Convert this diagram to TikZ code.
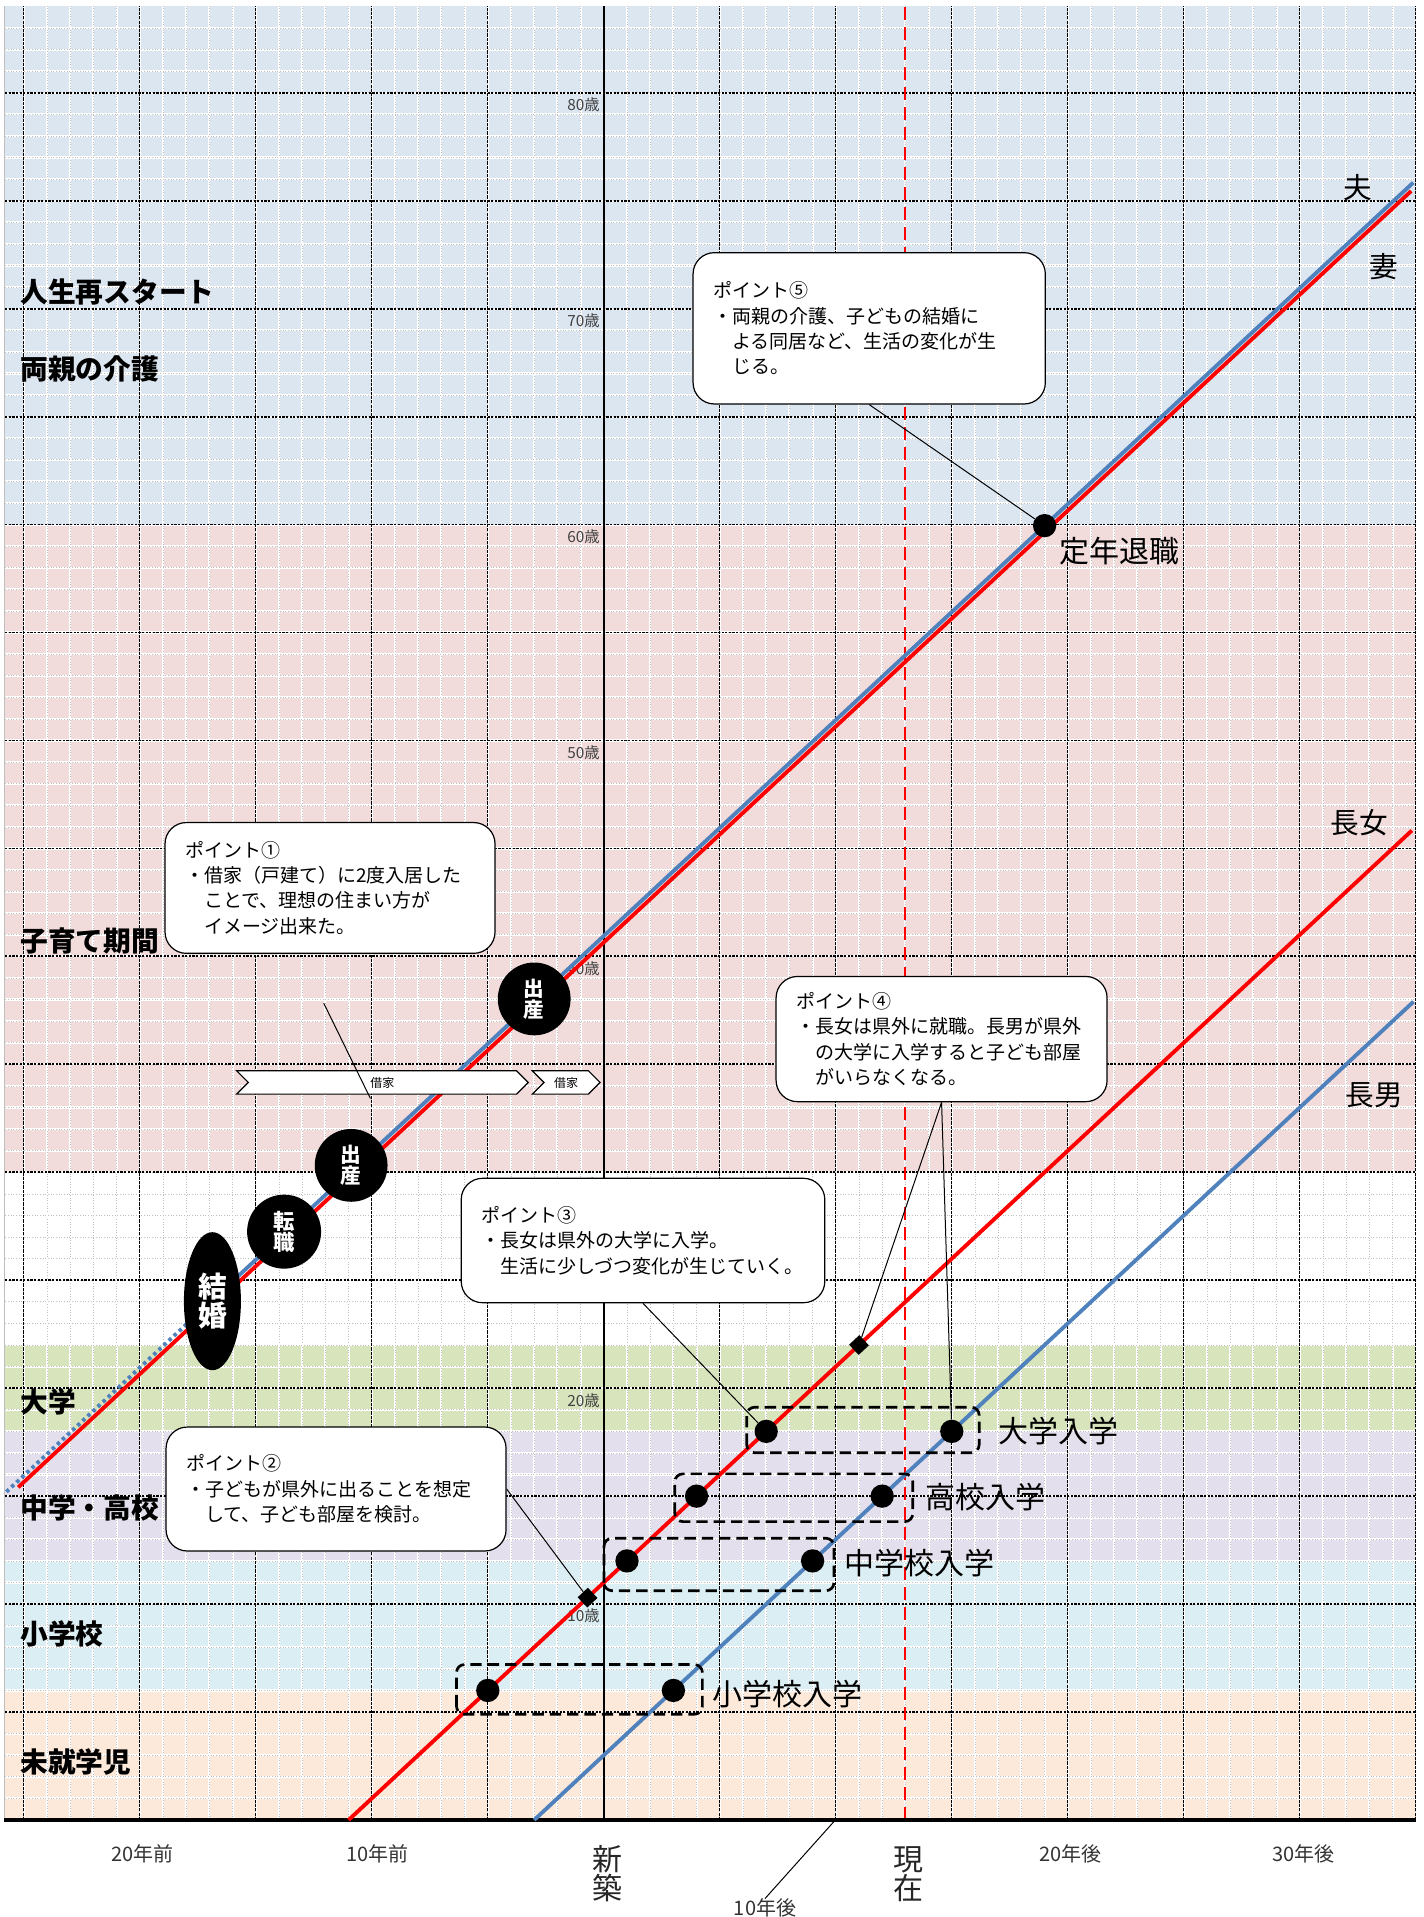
\documentclass[tikz,border=0pt]{standalone}
\usepackage{fontspec}
\setmainfont{Noto Sans CJK JP}
\usetikzlibrary{shapes.geometric,shapes.symbols}

\definecolor{bandblue}{RGB}{220,230,241}
\definecolor{bandpink}{RGB}{242,220,219}
\definecolor{bandgreen}{RGB}{216,228,188}
\definecolor{bandpurple}{RGB}{228,223,236}
\definecolor{bandcyan}{RGB}{218,238,243}
\definecolor{bandpeach}{RGB}{253,233,217}
\definecolor{lineblue}{RGB}{79,129,189}
\definecolor{linered}{RGB}{255,0,0}

\tikzset{
  finegrid/.style={white, line width=1.6pt},
  finedots/.style={black!25, line width=0.5pt, dash pattern=on 0.8pt off 1.2pt},
  majorh/.style={black, line width=1.35pt, dash pattern=on 1.6pt off 1.1pt},
  majorv/.style={black, line width=0.75pt, dash pattern=on 2.4pt off 0.8pt},
  agelabel/.style={anchor=east, inner sep=0pt, text=black!75, font=\fontsize{11.5}{13}\selectfont},
  bandlabel/.style={anchor=west, inner sep=0pt, font=\fontsize{20.8}{24}\selectfont\bfseries},
  personlabel/.style={inner sep=0pt, font=\fontsize{21.5}{24}\selectfont},
  stagelabel/.style={anchor=west, inner sep=0pt, font=\fontsize{22.5}{26}\selectfont},
  axislabel/.style={inner sep=0pt, text=black!80, font=\fontsize{15}{17}\selectfont},
  axisbig/.style={inner sep=0pt, align=center, text=black!85, font=\fontsize{22.5}{21.75}\selectfont},
  lifeline/.style={line width=2.9pt},
  stagedot/.style={circle, fill=black, inner sep=0pt, minimum size=17.5pt},
  sqmark/.style={rectangle, fill=black, inner sep=0pt, minimum size=10.5pt, rotate=43},
  event/.style={circle, fill=black, text=white, inner sep=0pt, align=center, font=\fontsize{15.5}{15.5}\selectfont\bfseries},
  stagebox/.style={draw, line width=2pt, dash pattern=on 8.5pt off 4.5pt, rounded corners=6pt},
  callout/.style={draw, fill=white, line width=0.9pt, rounded corners=16pt, align=left, inner xsep=15pt, inner ysep=0pt, font=\fontsize{14.25}{19}\selectfont},
  leader/.style={line width=0.75pt},
  rental/.style={signal, signal from=west, signal to=east, draw, fill=white, line width=0.9pt, inner sep=0pt, minimum height=17.5pt, font=\fontsize{9}{10}\selectfont},
}

\begin{document}
\begin{tikzpicture}[x=17.4pt, y=16.1925pt]
\useasboundingbox (-26.026,-4.493) rectangle (35.353,84.298);

% Bands
\fill[bandpeach] (-25.8,0) rectangle (35,6);
\fill[bandcyan] (-25.8,6) rectangle (35,12);
\fill[bandpurple] (-25.8,12) rectangle (35,18);
\fill[bandgreen] (-25.8,18) rectangle (35,22);
\fill[bandpink] (-25.8,30) rectangle (35,60);
\fill[bandblue] (-25.8,60) rectangle (35,84);

% Fine grid
\foreach \t in {-25,...,35} {
  \draw[finegrid] (\t,0) -- (\t,84);
  \draw[finedots] (\t,0) -- (\t,84);
}
\foreach \a in {1,...,83} {
  \draw[finegrid] (-25.8,\a) -- (35,\a);
  \draw[finedots] (-25.8,\a) -- (35,\a);
}

% Major grid
\foreach \t in {-25,-20,-15,-10,-5,5,10,15,20,25,30,35}
  \draw[majorv] (\t,0) -- (\t,84);
\foreach \a in {5,10,...,80}
  \draw[majorh] (-25.8,\a) -- (35,\a);

% Frame, new build, now
\draw[gray!50, line width=1.1pt] (-25.83,0) -- (-25.83,84);
\draw[line width=1.7pt] (0,0) -- (0,84);
\draw[linered, line width=1.8pt, dash pattern=on 10pt off 5pt] (12.97,0) -- (12.97,84);
\draw[line width=2.5pt] (-25.85,0) -- (35,0);

% Ages
\foreach \a in {10,20,...,80}
  \node[agelabel] (age\a) at (-0.16,\a-0.56) {{\a}歳};

% Life lines
\draw[lifeline, linered] (-25.24,15.41) -- (34.8,75.45);
\draw[lifeline, lineblue, dash pattern=on 2.6pt off 2.6pt] (-25.75,15.2) -- (-16.9,24.05);
\draw[lifeline, lineblue] (-16.9,24.05) -- (34.89,75.84);
\draw[lifeline, linered] (-11,0) -- (34.83,45.83);
\draw[lifeline, lineblue] (-3,0) -- (34.9,37.9);

% Rented houses
\node[rental, minimum width=218.7pt] (rent1) at (-9.54,34.16) {借家};
\node[rental, minimum width=50.8pt] (rent2) at (-1.62,34.16) {借家};

% Events
\node[event, ellipse, minimum width=42.75pt, minimum height=103.5pt, font=\fontsize{21.5}{21.5}\selectfont\bfseries] (marriage) at (-16.87,24.03) {結\\婚};
\node[event, minimum size=55.5pt, font=\fontsize{16}{16}\selectfont\bfseries] (jobchange) at (-13.78,27.25) {転\\職};
\node[event, minimum size=54.6pt] (birth1) at (-10.89,30.32) {出\\産};
\node[event, minimum size=54.6pt] (birth2) at (-3.0,38.03) {出\\産};

% School stages
\draw[stagebox] (-6.35,4.9) rectangle (4.25,7.2);
\draw[stagebox] (0.01,10.62) rectangle (9.92,13.05);
\draw[stagebox] (3.06,13.82) rectangle (13.32,16.03);
\draw[stagebox] (6.16,17.01) rectangle (16.18,19.12);
\node[stagedot] (d6) at (-5,6) {};
\node[stagedot] (s6) at (3,6) {};
\node[stagedot] (d12) at (1,12) {};
\node[stagedot] (s12) at (9,12) {};
\node[stagedot] (d15) at (4,15) {};
\node[stagedot] (s15) at (12,15) {};
\node[stagedot] (d18) at (7,18) {};
\node[stagedot] (s18) at (15,18) {};
\node[stagedot] (retire) at (19,59.95) {};
\node[sqmark] (sq2) at (-0.7,10.3) {};
\node[sqmark] (sq4) at (11,22) {};

% Points
\node[callout, text width=217.5pt, minimum height=98.1pt] (pt1) at (-11.80,43.17)
  {ポイント①\\・借家（戸建て）に2度入居した\\\hspace*{1em}ことで、理想の住まい方が\\\hspace*{1em}イメージ出来た。};
\node[callout, text width=225pt, minimum height=93pt] (pt2) at (-11.54,15.33)
  {ポイント②\\・子どもが県外に出ることを想定\\\hspace*{1em}して、子ども部屋を検討。};
\node[callout, text width=242.7pt, minimum height=93.3pt] (pt3) at (1.69,26.84)
  {ポイント③\\・長女は県外の大学に入学。\\\hspace*{1em}生活に少しづつ変化が生じていく。};
\node[callout, text width=218.25pt, minimum height=93.9pt] (pt4) at (14.56,36.17)
  {ポイント④\\・長女は県外に就職。長男が県外\\\hspace*{1em}の大学に入学すると子ども部屋\\\hspace*{1em}がいらなくなる。};
\node[callout, text width=234.2pt, minimum height=113.5pt] (pt5) at (11.44,69.09)
  {ポイント⑤\\・両親の介護、子どもの結婚に\\\hspace*{1em}よる同居など、生活の変化が生\\\hspace*{1em}じる。};

% Leaders
\coordinate (pt1tail) at (-12.07,37.83);
\coordinate (pt1tip) at (-10.06,33.42);
\draw[leader] (pt1tail) -- (pt1tip);
\draw[leader] (pt2.east) -- (sq2);
\draw[leader] (pt3.south) -- (d18);
\draw[leader] (pt4.south) -- (sq4);
\draw[leader] (pt4.south) -- (s18);
\draw[leader] (pt5.south) -- (retire);

% Stage labels
\node[stagelabel] (lbl18) at (17.02,18.0) {大学入学};
\node[stagelabel] (lbl15) at (13.86,14.95) {高校入学};
\node[stagelabel] (lbl12) at (10.38,11.9) {中学校入学};
\node[stagelabel] (lbl6) at (4.69,5.85) {小学校入学};
\node[stagelabel] (retirelbl) at (19.65,58.76) {定年退職};

% Persons
\node[personlabel] (husbandlbl) at (32.52,75.62) {夫};
\node[personlabel] (wifelbl) at (33.63,71.95) {妻};
\node[personlabel] (daughterlbl) at (32.56,46.2) {長女};
\node[personlabel] (sonlbl) at (33.22,33.57) {長男};

% Life periods
\node[bandlabel] (restart) at (-25.16,70.77) {人生再スタート};
\node[bandlabel] (care) at (-25.16,67.21) {両親の介護};
\node[bandlabel] (childcare) at (-25.16,40.73) {子育て期間};
\node[bandlabel] (univ) at (-25.16,19.37) {大学};
\node[bandlabel] (junior) at (-25.16,14.47) {中学・高校};
\node[bandlabel] (primary) at (-25.16,8.61) {小学校};
\node[bandlabel] (preschool) at (-25.16,2.69) {未就学児};

% Time axis
\node[axislabel] (ax20b) at (-19.9,-1.575) {20年前};
\node[axislabel] (ax10b) at (-9.74,-1.575) {10年前};
\node[axisbig] (axnew) at (0.15,-2.49) {新\\築};
\node[axisbig] (axnow) at (13.12,-2.49) {現\\在};
\node[axislabel] (ax20a) at (20.13,-1.575) {20年後};
\node[axislabel] (ax30a) at (30.15,-1.575) {30年後};
\node[axislabel] (ax10a) at (6.95,-4.08) {10年後};
\coordinate (tick10) at (9.98,0);
\draw[leader] (tick10) -- (ax10a.north);

\end{tikzpicture}
\end{document}
